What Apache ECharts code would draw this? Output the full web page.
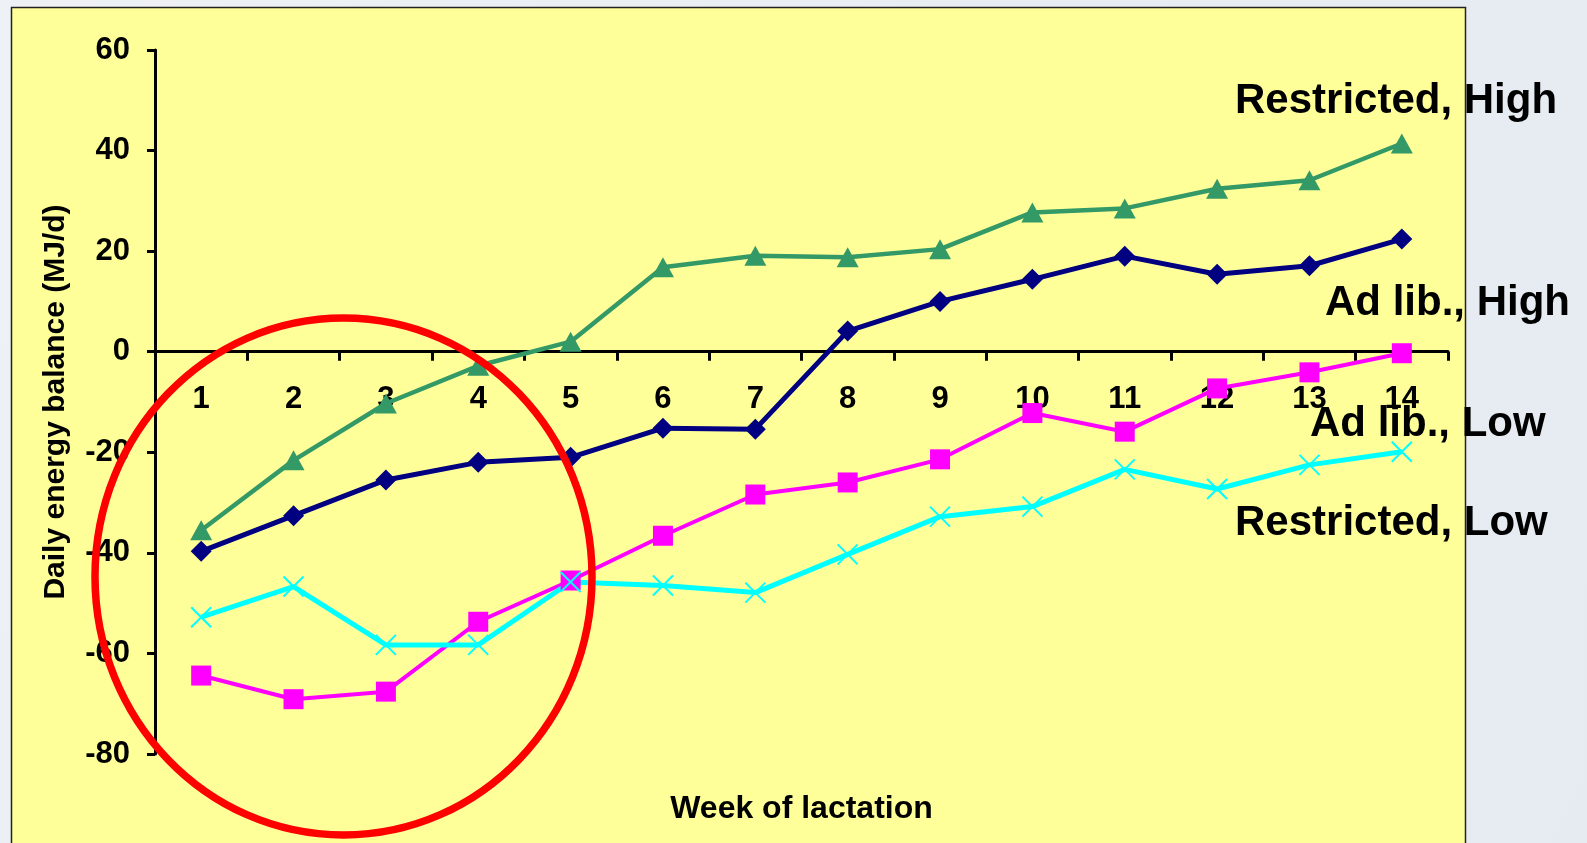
<!DOCTYPE html>
<html>
<head>
<meta charset="utf-8">
<title>Daily energy balance by week of lactation</title>
<script src="https://cdn.jsdelivr.net/npm/echarts@6/dist/echarts.min.js"></script>
<style>
  html, body { margin: 0; padding: 0; background: #e9eef4; }
  #chart { width: 1587px; height: 843px; }
</style>
</head>
<body>
<div id="chart"></div>
<script>
// Week of lactation (category axis)
const weeks = ['1', '2', '3', '4', '5', '6', '7', '8', '9', '10', '11', '12', '13', '14'];

// Daily energy balance, MJ/d
const adLibHigh      = [-39.7, -32.6, -25.5, -22.0, -21.0, -15.2, -15.4, 4.1, 10.0, 14.4, 19.0, 15.4, 17.1, 22.4];
const adLibLow       = [-64.4, -69.1, -67.6, -53.7, -45.5, -36.6, -28.4, -26.0, -21.4, -12.2, -15.9, -7.3, -4.1, -0.3];
const restrictedHigh = [-35.5, -21.6, -10.3, -2.8, 2.0, 16.8, 19.1, 18.8, 20.4, 27.7, 28.5, 32.4, 34.1, 41.4];
const restrictedLow  = [-52.8, -46.7, -58.3, -58.3, -45.8, -46.5, -47.9, -40.3, -32.8, -30.8, -23.4, -27.3, -22.5, -19.9];

// Value axis range
const yMin = -80, yMax = 60, yStep = 20;

// Series names, also drawn as text next to the lines
const seriesNames = ['Ad lib., High', 'Ad lib., Low', 'Restricted, High', 'Restricted, Low'];

const FONT = '"Liberation Sans", Arial, sans-serif';
const crossSymbol = 'path://M0,0 L10,10 M10,0 L0,10';

// Plot box (pixels) – the week axis sits on the zero line
const GRID_TOP = 50, GRID_BOTTOM = 89, CHART_H = 843;
const plotH = CHART_H - GRID_TOP - GRID_BOTTOM;
const zeroY = GRID_TOP + plotH * (yMax / (yMax - yMin));
const xAxisOffset = zeroY - (CHART_H - GRID_BOTTOM);

const chart = echarts.init(document.getElementById('chart'), null, { renderer: 'canvas' });

function seriesLabel(text, x, y) {
  return {
    type: 'text',
    z: 100,
    style: {
      text: text, x: x, y: y,
      font: 'bold 42px ' + FONT,
      fill: '#000',
      textAlign: 'left', textVerticalAlign: 'middle',
      align: 'left', verticalAlign: 'middle'
    }
  };
}

const option = {
  animation: false,
  backgroundColor: {
    type: 'linear', x: 0, y: 0, x2: 1, y2: 1,
    colorStops: [
      { offset: 0, color: '#eef2f6' },
      { offset: 0.5, color: '#e8edf3' },
      { offset: 1, color: '#e6ebf1' }
    ]
  },
  grid: { left: 155, right: 139, top: GRID_TOP, bottom: GRID_BOTTOM, containLabel: false, outerBoundsMode: 'none' },
  xAxis: {
    type: 'category',
    data: weeks,
    boundaryGap: true,
    position: 'bottom',
    offset: xAxisOffset,
    name: 'Week of lactation',
    nameLocation: 'middle',
    nameGap: 441,
    nameTextStyle: { fontFamily: FONT, fontWeight: 'bold', fontSize: 32, color: '#000' },
    axisLine: { onZero: false, lineStyle: { color: '#000', width: 3 } },
    axisTick: { show: true, inside: false, length: 9, alignWithLabel: false, lineStyle: { color: '#000', width: 3 } },
    axisLabel: { margin: 32, fontFamily: FONT, fontWeight: 'bold', fontSize: 31, color: '#000', interval: 0 },
    splitLine: { show: false }
  },
  yAxis: {
    type: 'value',
    min: yMin, max: yMax, interval: yStep,
    name: 'Daily energy balance (MJ/d)',
    nameLocation: 'middle',
    nameRotate: 90,
    nameGap: 84,
    nameTextStyle: { fontFamily: FONT, fontWeight: 'bold', fontSize: 30, color: '#000' },
    axisLine: { show: true, lineStyle: { color: '#000', width: 3 } },
    axisTick: { show: true, inside: false, length: 8, lineStyle: { color: '#000', width: 3 } },
    axisLabel: { margin: 25, fontFamily: FONT, fontWeight: 'bold', fontSize: 31, color: '#000' },
    splitLine: { show: false }
  },
  series: [
    {
      name: seriesNames[0], type: 'line', data: adLibHigh,
      symbol: 'diamond', symbolSize: 21,
      lineStyle: { color: '#000080', width: 5 },
      itemStyle: { color: '#000080' }
    },
    {
      name: seriesNames[1], type: 'line', data: adLibLow,
      symbol: 'rect', symbolSize: 20,
      lineStyle: { color: '#ff00ff', width: 4 },
      itemStyle: { color: '#ff00ff' }
    },
    {
      name: seriesNames[2], type: 'line', data: restrictedHigh,
      symbol: 'triangle', symbolSize: [22, 20],
      lineStyle: { color: '#339966', width: 4.5 },
      itemStyle: { color: '#339966' }
    },
    {
      name: seriesNames[3], type: 'line', data: restrictedLow,
      symbol: crossSymbol, symbolSize: 20,
      lineStyle: { color: '#00ffff', width: 5 },
      itemStyle: { color: '#00ffff', borderColor: '#00ffff', borderWidth: 2 }
    }
  ],
  graphic: [
    // yellow plot panel
    {
      type: 'rect', z: -100,
      shape: { x: 11.5, y: 7.5, width: 1454, height: 850 },
      style: { fill: '#ffff99', stroke: '#222', lineWidth: 1.5 }
    },
    // red highlight ring around the early weeks
    {
      type: 'ellipse', z: 90,
      shape: { cx: 343.5, cy: 576.5, rx: 248.5, ry: 258.5 },
      style: { fill: null, stroke: '#ff0000', lineWidth: 7.5 }
    },
    seriesLabel(seriesNames[2], 1235, 101),
    seriesLabel(seriesNames[0], 1325, 303),
    seriesLabel(seriesNames[1], 1310, 424),
    seriesLabel(seriesNames[3], 1235, 523)
  ]
};

chart.setOption(option);
</script>
</body>
</html>
